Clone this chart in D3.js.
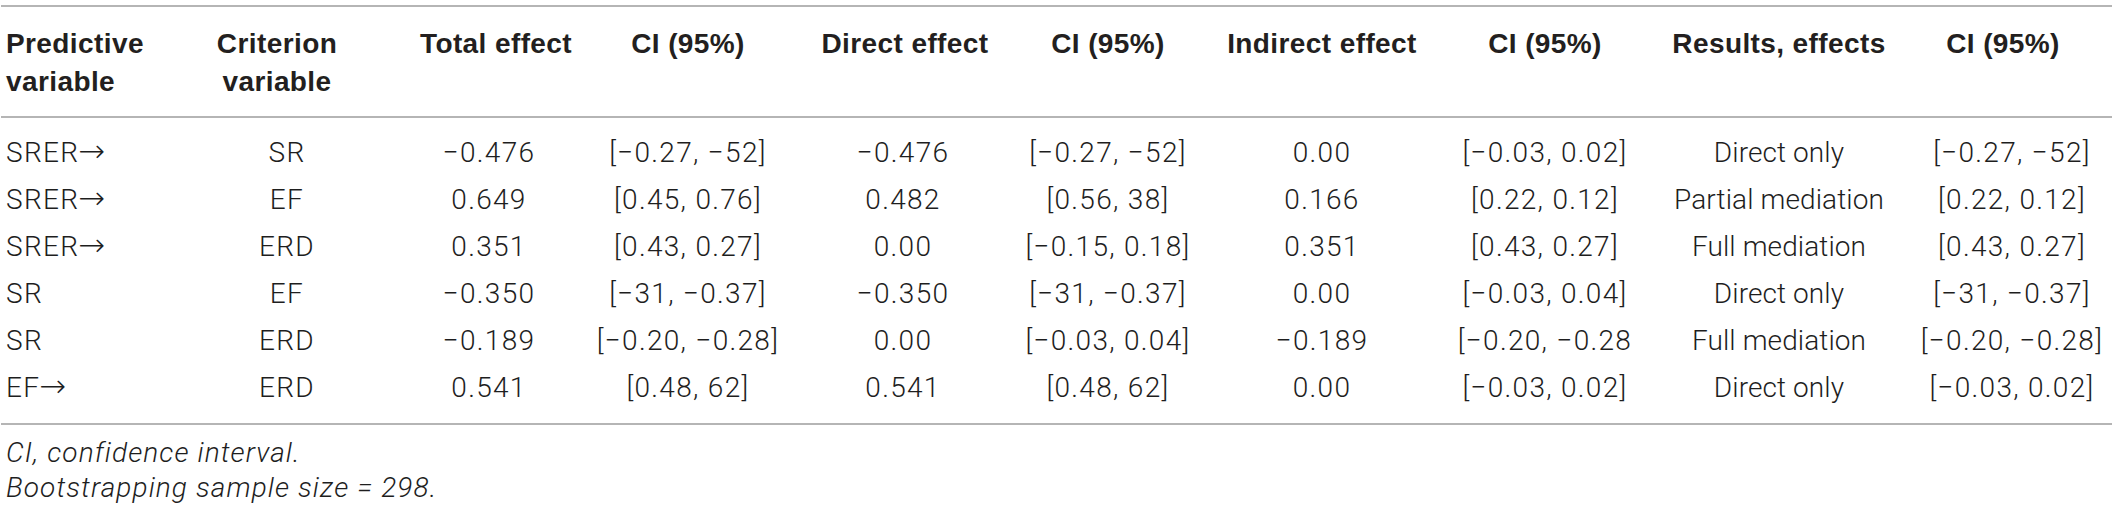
<!DOCTYPE html>
<html>
<head>
<meta charset="utf-8">
<script src="https://cdn.jsdelivr.net/npm/d3@7"></script>
<style>
  html, body { margin: 0; padding: 0; background: #ffffff; }
  svg { display: block; }
</style>
</head>
<body>
<svg id="chart" width="2117" height="510"></svg>
<script>
// ---- data ----
const headers = [
  ["Predictive", "variable"],
  ["Criterion", "variable"],
  ["Total effect"],
  ["CI (95%)"],
  ["Direct effect"],
  ["CI (95%)"],
  ["Indirect effect"],
  ["CI (95%)"],
  ["Results, effects"],
  ["CI (95%)"]
];
const predictive = ["SRER", "SRER", "SRER", "SR", "SR", "EF"];
const predictiveArrow = [true, true, true, false, false, true];
const criterion = ["SR", "EF", "ERD", "EF", "ERD", "ERD"];
const totalEffect = ["\u22120.476", "0.649", "0.351", "\u22120.350", "\u22120.189", "0.541"];
const totalCI = ["[\u22120.27, \u221252]", "[0.45, 0.76]", "[0.43, 0.27]", "[\u221231, \u22120.37]", "[\u22120.20, \u22120.28]", "[0.48, 62]"];
const directEffect = ["\u22120.476", "0.482", "0.00", "\u22120.350", "0.00", "0.541"];
const directCI = ["[\u22120.27, \u221252]", "[0.56, 38]", "[\u22120.15, 0.18]", "[\u221231, \u22120.37]", "[\u22120.03, 0.04]", "[0.48, 62]"];
const indirectEffect = ["0.00", "0.166", "0.351", "0.00", "\u22120.189", "0.00"];
const indirectCI = ["[\u22120.03, 0.02]", "[0.22, 0.12]", "[0.43, 0.27]", "[\u22120.03, 0.04]", "[\u22120.20, \u22120.28", "[\u22120.03, 0.02]"];
const results = ["Direct only", "Partial mediation", "Full mediation", "Direct only", "Full mediation", "Direct only"];
const resultsCI = ["[\u22120.27, \u221252]", "[0.22, 0.12]", "[0.43, 0.27]", "[\u221231, \u22120.37]", "[\u22120.20, \u22120.28]", "[\u22120.03, 0.02]"];
const footnotes = ["CI, confidence interval.", "Bootstrapping sample size = 298."];

const columns = [predictive, criterion, totalEffect, totalCI, directEffect, directCI,
                 indirectEffect, indirectCI, results, resultsCI];

// ---- layout ----
const W = 2117;
const svg = d3.select("#chart");
const colIdx = d3.range(columns.length);
const rowIdx = d3.range(predictive.length);

const headerX = d3.scaleOrdinal().domain(colIdx)
  .range([6, 277, 496, 688, 905, 1108, 1322, 1545, 1779, 2003]);
const cellX = d3.scaleOrdinal().domain(colIdx)
  .range([6, 287, 489, 688, 903, 1108, 1322, 1545, 1779, 2012]);
const spacing = d3.scaleOrdinal().domain(colIdx)
  .range([1.3, 1.3, 1.3, 1.3, 1.3, 1.3, 1.3, 1.3, 0.1, 1.3]);
const anchor = i => (i === 0 ? "start" : "middle");
const rowY = d3.scalePoint().domain(rowIdx).range([162, 397]);

const headColor = "#231f20";
const bodyColor = "#1e1e1e";
const ruleColor = "#9d9d9d";
const headFont = "'Liberation Sans', Arial, Helvetica, sans-serif";
const bodyFont = "Roboto, 'Liberation Sans', Arial, sans-serif";

// rules
svg.selectAll("line.rule").data([6, 117, 424]).join("line")
  .attr("class", "rule")
  .attr("x1", 1).attr("x2", W - 5)
  .attr("y1", d => d).attr("y2", d => d)
  .attr("stroke", ruleColor).attr("stroke-width", 1.5);

// headers
const hdr = svg.selectAll("text.hdr").data(headers).join("text")
  .attr("class", "hdr")
  .attr("x", (d, i) => headerX(i))
  .attr("text-anchor", (d, i) => anchor(i))
  .attr("font-family", headFont)
  .attr("font-weight", "bold")
  .attr("font-size", 28)
  .attr("letter-spacing", 0.4)
  .attr("fill", headColor);
hdr.selectAll("tspan").data((d, i) => d.map(t => ({ t, i }))).join("tspan")
  .attr("x", d => headerX(d.i))
  .attr("y", (d, j) => j === 0 ? 53 : 91)
  .text(d => d.t);

// cells
const cols = svg.selectAll("g.col").data(columns).join("g").attr("class", "col");
cols.each(function (vals, ci) {
  const t = d3.select(this).selectAll("text").data(vals).join("text")
    .attr("x", cellX(ci))
    .attr("y", (d, ri) => rowY(ri))
    .attr("text-anchor", anchor(ci))
    .attr("font-family", bodyFont)
    .attr("font-weight", 300)
    .attr("font-size", 28)
    .attr("letter-spacing", spacing(ci))
    .attr("fill", bodyColor);
  t.append("tspan").text(d => d);
  if (ci === 0) {
    t.filter((d, ri) => predictiveArrow[ri]).append("tspan")
      .attr("font-family", "'DejaVu Sans', sans-serif")
      .attr("font-weight", 200)
      .attr("font-size", 32)
      .attr("letter-spacing", 0)
      .attr("dx", -1)
      .text("\u2192");
  }
});

// footnotes
svg.selectAll("text.foot").data(footnotes).join("text")
  .attr("class", "foot")
  .attr("x", 6)
  .attr("y", (d, i) => [462, 497][i])
  .attr("font-family", bodyFont)
  .attr("font-style", "italic")
  .attr("font-weight", 300)
  .attr("font-size", 28)
  .attr("letter-spacing", 1.1)
  .attr("fill", bodyColor)
  .text(d => d);
</script>
</body>
</html>
